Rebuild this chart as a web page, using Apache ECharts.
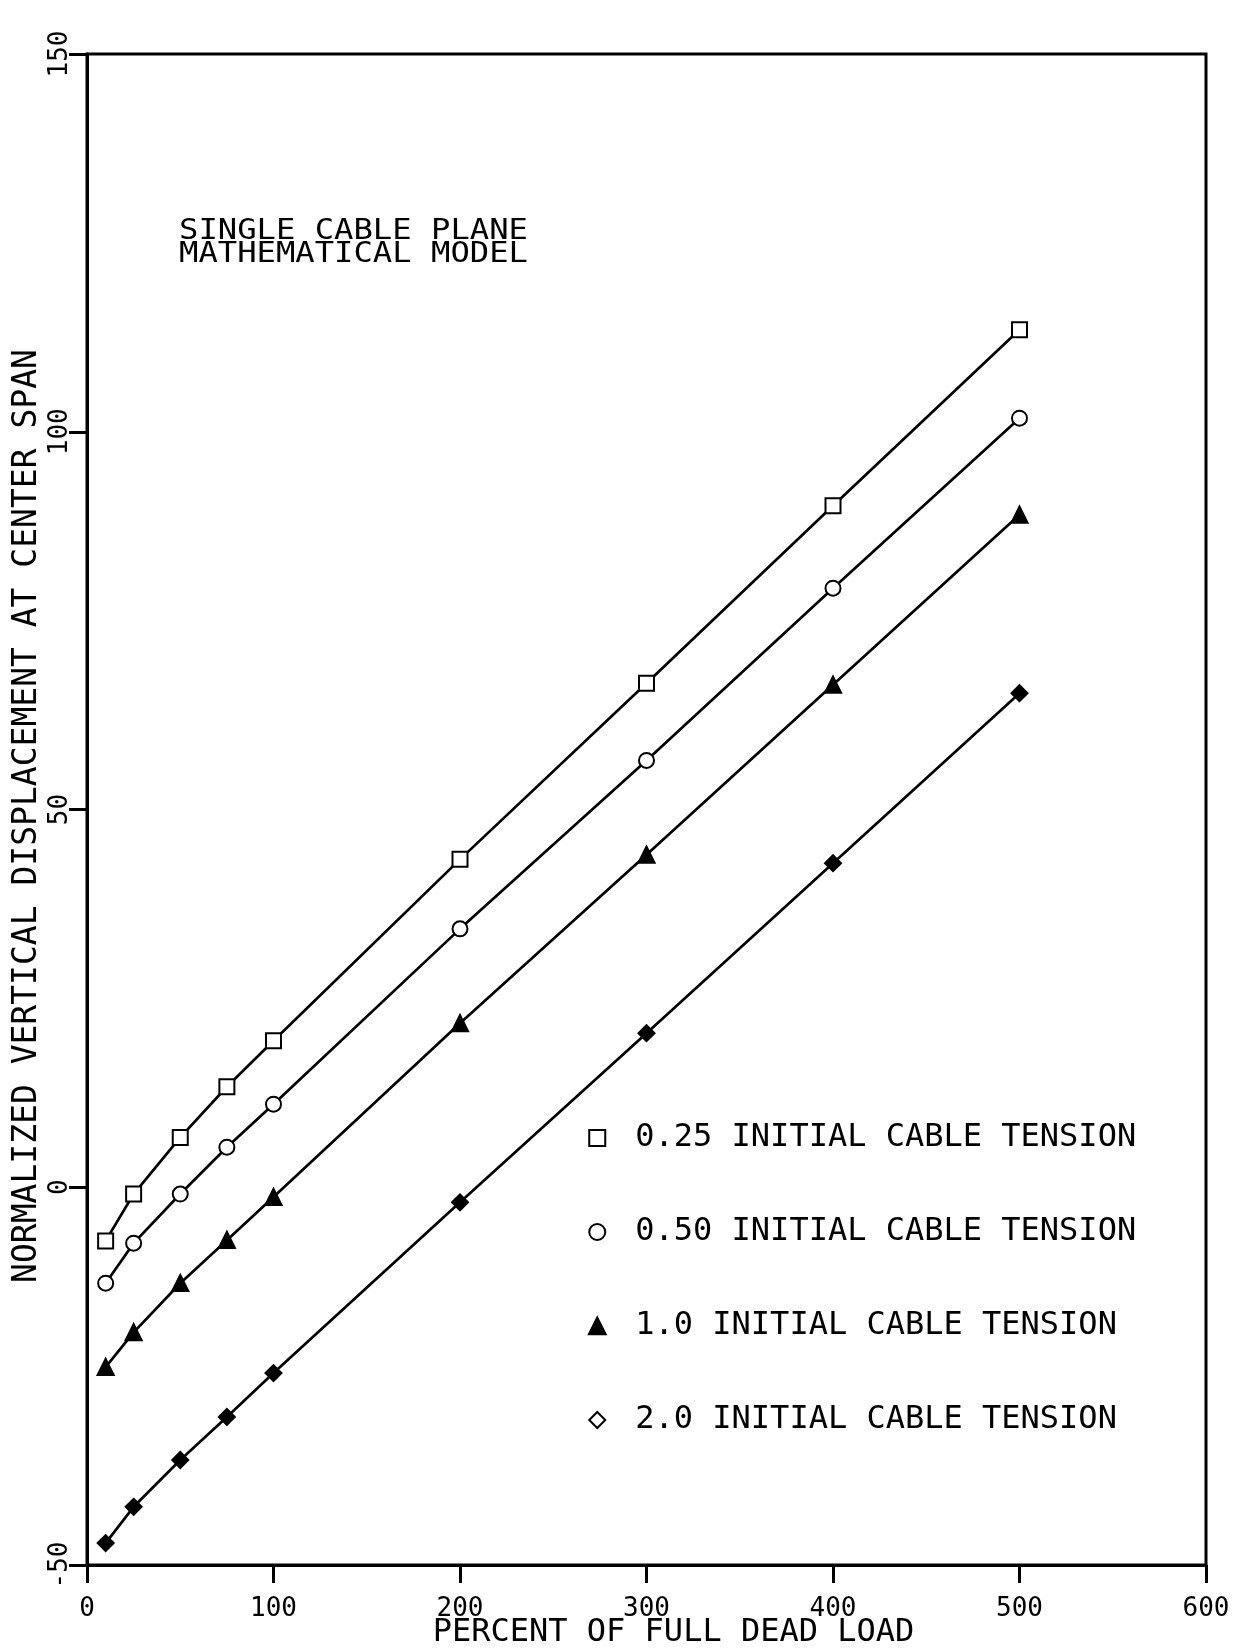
<!DOCTYPE html>
<html>
<head>
<meta charset="utf-8">
<script src="https://cdn.jsdelivr.net/npm/echarts@6/dist/echarts.min.js"></script>
<style>
html, body { margin: 0; padding: 0; background: #fff; }
#chart { width: 1260px; height: 1651px; }
</style>
</head>
<body>
<div id="chart"></div>
<script>
// percent of full dead load
var loads = [10, 25, 50, 75, 100, 200, 300, 400, 500];
// normalized vertical displacement, one list per initial cable tension
var tension025 = [-7.1, -0.9, 6.6, 13.3, 19.4, 43.4, 66.7, 90.2, 113.5];
var tension050 = [-12.7, -7.4, -0.9, 5.3, 11.0, 34.2, 56.5, 79.3, 101.8];
var tension100 = [-23.8, -19.2, -12.7, -7.0, -1.3, 21.7, 44.0, 66.5, 89.0];
var tension200 = [-47.1, -42.3, -36.1, -30.4, -24.6, -2.0, 20.4, 42.9, 65.4];
var seriesNames = [
    '0.25 INITIAL CABLE TENSION',
    '0.50 INITIAL CABLE TENSION',
    '1.0 INITIAL CABLE TENSION',
    '2.0 INITIAL CABLE TENSION'
];
var markers = ['emptyRect', 'emptyCircle', 'triangle', 'diamond'];
var legendIcons = ['emptyRect', 'emptyCircle', 'triangle', 'emptyDiamond'];

var font = 'DejaVu Sans Mono';

function pairs(ys) {
    return loads.map(function (x, i) { return [x, ys[i]]; });
}

function makeSeries(i, ys) {
    return {
        name: seriesNames[i],
        type: 'line',
        data: pairs(ys),
        symbol: markers[i],
        symbolSize: 15,
        showAllSymbol: true,
        lineStyle: { color: '#000', width: 2.7 },
        itemStyle: { color: '#000', borderColor: '#000', borderWidth: 2.7 },
        emphasis: { disabled: true },
        animation: false
    };
}

option = {
    backgroundColor: '#fff',
    animation: false,
    grid: {
        left: 87, right: 54, top: 54, bottom: 86,
        outerBoundsMode: 'none',
        show: true, borderColor: '#000', borderWidth: 3, backgroundColor: 'transparent'
    },
    legend: {
        orient: 'vertical',
        left: 583,
        top: 1117,
        itemWidth: 16,
        itemHeight: 16,
        itemGap: 62,
        selectedMode: false,
        itemStyle: { color: '#000', borderColor: '#000', borderWidth: 2.5 },
        textStyle: { fontFamily: font, fontSize: 32, color: '#000', lineHeight: 32, padding: [0, 0, 0, 25] },
        data: seriesNames.map(function (n, i) { return { name: n, icon: legendIcons[i] }; })
    },
    graphic: [{
        type: 'text',
        x: 179,
        y: 220,
        scaleX: 1.15,
        style: {
            text: 'SINGLE CABLE PLANE\nMATHEMATICAL MODEL',
            font: '28px "DejaVu Sans Mono"',
            fill: '#000',
            lineHeight: 23,
            verticalAlign: 'top'
        }
    }],
    xAxis: {
        type: 'value',
        min: 0, max: 600, interval: 100,
        name: 'PERCENT OF FULL DEAD LOAD',
        nameLocation: 'middle',
        nameGap: 52,
        nameMoveOverlap: false,
        nameTextStyle: { fontFamily: font, fontSize: 32, color: '#000', padding: [0, 0, 0, 54] },
        axisLine: { show: true, onZero: false, lineStyle: { color: '#000', width: 3 } },
        axisTick: { show: true, inside: false, length: 18, lineStyle: { color: '#000', width: 3 } },
        axisLabel: { fontFamily: font, fontSize: 26, color: '#000', margin: 31 },
        splitLine: { show: false }
    },
    yAxis: {
        type: 'value',
        min: -50, max: 150, interval: 50,
        name: 'NORMALIZED VERTICAL DISPLACEMENT AT CENTER SPAN',
        nameLocation: 'middle',
        nameGap: 43,
        nameMoveOverlap: false,
        nameTextStyle: { fontFamily: font, fontSize: 33, color: '#000', padding: [0, 13, 0, 0] },
        axisLine: { show: true, onZero: false, lineStyle: { color: '#000', width: 3 } },
        axisTick: { show: true, inside: false, length: 18, lineStyle: { color: '#000', width: 3 } },
        axisLabel: {
            fontFamily: font, fontSize: 26, color: '#000', margin: 14,
            rotate: 90, align: 'center', verticalAlign: 'bottom'
        },
        splitLine: { show: false }
    },
    series: [
        makeSeries(0, tension025),
        makeSeries(1, tension050),
        makeSeries(2, tension100),
        makeSeries(3, tension200)
    ]
};

var mychart = echarts.init(document.getElementById('chart'));
mychart.setOption(option);
</script>
</body>
</html>
